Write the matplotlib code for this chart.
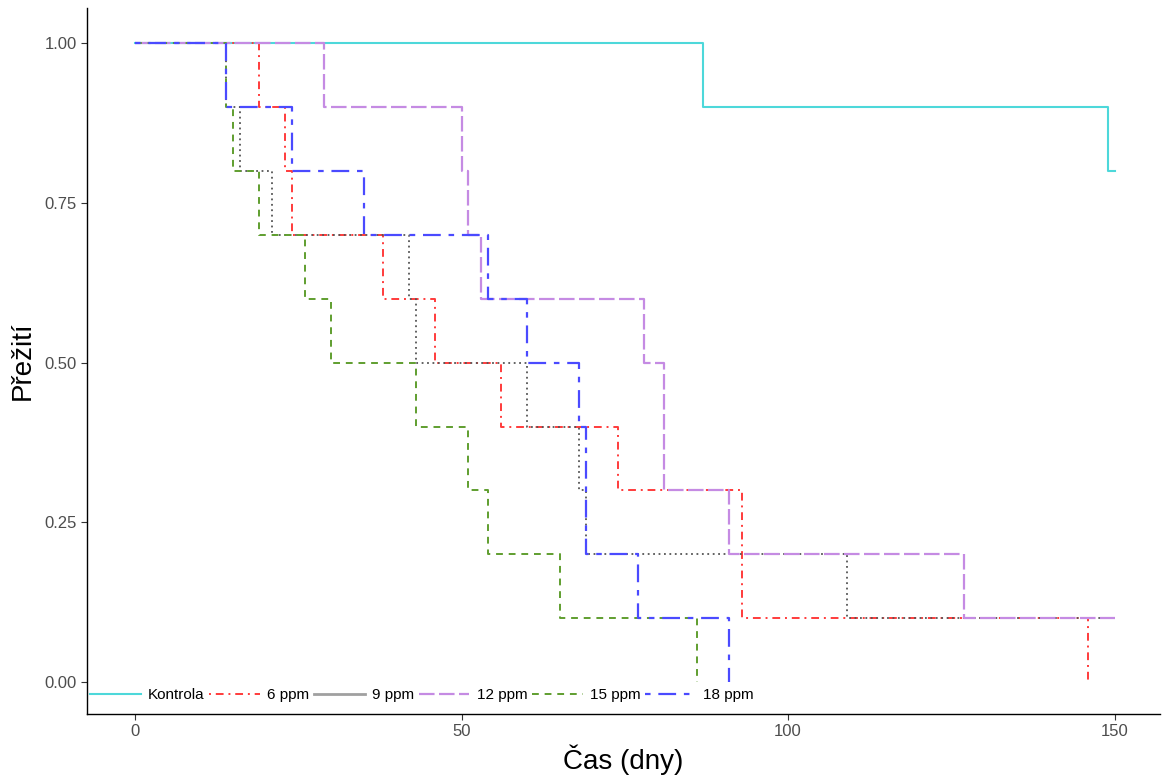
import matplotlib.pyplot as plt
from matplotlib.lines import Line2D

plt.rcParams['font.family'] = ['Liberation Sans', 'DejaVu Sans']

# Kaplan-Meier steps (time in days, survival)
kontrola_t = [0, 87, 149, 150]
kontrola_s = [1.0, 0.9, 0.8, 0.8]
ppm6_t = [0, 19, 23, 24, 38, 46, 56, 74, 93, 146]
ppm6_s = [1.0, 0.9, 0.8, 0.7, 0.6, 0.5, 0.4, 0.3, 0.1, 0.0]
ppm9_t = [0, 14, 16, 21, 42, 43, 60, 68, 69, 109, 150]
ppm9_s = [1.0, 0.9, 0.8, 0.7, 0.6, 0.5, 0.4, 0.3, 0.2, 0.1, 0.1]
ppm12_t = [0, 29, 50, 51, 53, 78, 81, 91, 127, 150]
ppm12_s = [1.0, 0.9, 0.8, 0.7, 0.6, 0.5, 0.3, 0.2, 0.1, 0.1]
ppm15_t = [0, 14, 15, 19, 26, 30, 43, 51, 54, 65, 86]
ppm15_s = [1.0, 0.9, 0.8, 0.7, 0.6, 0.5, 0.4, 0.3, 0.2, 0.1, 0.0]
ppm18_t = [0, 14, 24, 35, 54, 60, 68, 69, 77, 91]
ppm18_s = [1.0, 0.9, 0.8, 0.7, 0.6, 0.5, 0.4, 0.2, 0.1, 0.0]

labels = ['Kontrola', '6 ppm', '9 ppm', '12 ppm', '15 ppm', '18 ppm']
series = [(kontrola_t, kontrola_s), (ppm6_t, ppm6_s), (ppm9_t, ppm9_s),
          (ppm12_t, ppm12_s), (ppm15_t, ppm15_s), (ppm18_t, ppm18_s)]
colors = ['#4DD8DA', '#FF3B3B', '#555555', '#C58BE3', '#5F9E2F', '#4A4AFF']
styles = ['-', (0, (1, 2.5, 4, 2.5)), (0, (1, 2)), (0, (7, 2)),
          (0, (3.5, 3)), (0, (2.5, 3.5, 8, 3.5))]
widths = [1.5, 1.4, 1.3, 1.6, 1.4, 1.6]

fig = plt.figure(figsize=(11.62, 7.8), dpi=100)
ax = fig.add_axes([0.0749, 0.0846, 0.9231, 0.9051])

for (t, s), lab, c, ls, lw in zip(series, labels, colors, styles, widths):
    ax.step(t, s, where='post', color=c, linestyle=ls, linewidth=lw, label=lab)

ax.set_xlim(-7.35, 156.9)
ax.set_ylim(-0.05, 1.055)
ax.set_xticks([0, 50, 100, 150])
ax.set_yticks([0, 0.25, 0.5, 0.75, 1.0])
ax.set_yticklabels(['0.00', '0.25', '0.50', '0.75', '1.00'])
ax.tick_params(labelsize=12, labelcolor='#4D4D4D', color='#333333', length=4, width=0.8)
for side in ['top', 'right']:
    ax.spines[side].set_visible(False)
for side in ['left', 'bottom']:
    ax.spines[side].set_linewidth(1.0)

ax.set_xlabel('Čas (dny)', fontsize=20, labelpad=4)
ax.set_ylabel('Přežití', fontsize=20, labelpad=6)

# legend keys: the 9 ppm key is drawn solid as in the original
handles = []
for lab, c, ls, lw in zip(labels, colors, styles, widths):
    if lab == '9 ppm':
        ls, lw = '-', 2.0
        c = '#A0A0A0'
    handles.append(Line2D([], [], color=c, linestyle=ls, linewidth=lw))
ax.legend(handles, labels, ncol=6, loc='center left', bbox_to_anchor=(0.0, 0.027),
          frameon=False, fontsize=11, handlelength=3.3, handletextpad=0.5,
          columnspacing=0.3, borderpad=0, borderaxespad=0.2)

fig.savefig('out.png', dpi=100)
